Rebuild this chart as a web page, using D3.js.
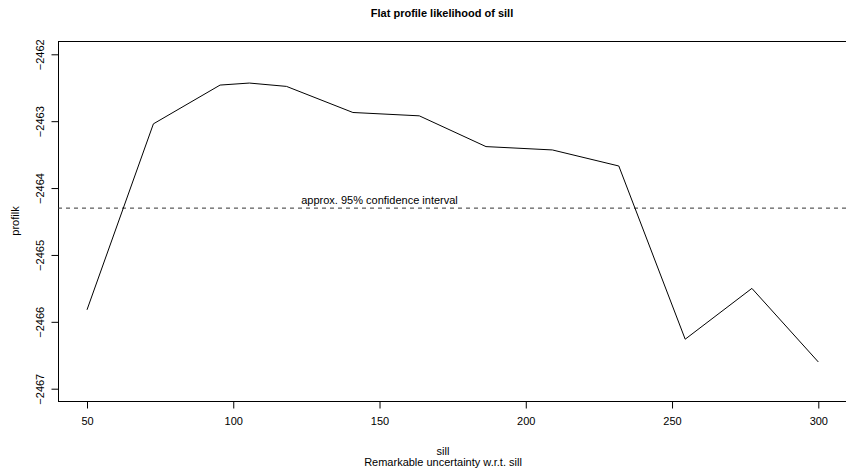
<!DOCTYPE html>
<html>
<head>
<meta charset="utf-8">
<script src="https://cdn.jsdelivr.net/npm/d3@7"></script>
<style>
  html, body { margin: 0; padding: 0; background: #fff; }
  svg { display: block; font-family: "Liberation Sans", Arial, Helvetica, sans-serif; }
</style>
</head>
<body>
<svg id="chart" width="846" height="468"></svg>
<script>
// Profile likelihood of the sill parameter
const sill = [50, 72.7, 95.5, 105.5, 118.2, 140.9, 163.6, 186.4, 209.1, 231.8, 254.5, 277.3, 300];
const profilk = [-2465.82, -2463.04, -2462.46, -2462.43, -2462.48, -2462.87, -2462.92,
                 -2463.38, -2463.43, -2463.67, -2466.26, -2465.50, -2466.60];
const ciLevel = -2464.30;           // approx. 95% confidence cut-off
const xTicks = [50, 100, 150, 200, 250, 300];
const yTicks = [-2467, -2466, -2465, -2464, -2463, -2462];
const titleText = "Flat profile likelihood of sill";
const xLabel = "sill";
const subText = "Remarkable uncertainty w.r.t. sill";
const yLabel = "profilk";
const ciText = "approx. 95% confidence interval";

const svg = d3.select("#chart");
const box = { left: 58, top: 41, right: 852, bottom: 401 };

const x = d3.scaleLinear().domain([50, 300]).range([87, 818.3]);
const y = d3.scaleLinear().domain([-2467, -2462]).range([388.7, 54.3]);

// plot frame
svg.append("rect")
  .attr("x", box.left + 0.5).attr("y", box.top + 0.5)
  .attr("width", box.right - box.left).attr("height", box.bottom - box.top)
  .attr("fill", "none").attr("stroke", "#000").attr("stroke-width", 1);

// x axis
const gx = svg.append("g")
  .attr("transform", `translate(0,${box.bottom + 0.5})`)
  .call(d3.axisBottom(x).tickValues(xTicks).tickSize(7).tickPadding(9).tickFormat(d3.format("d")));
gx.select(".domain").remove();
gx.selectAll("line").attr("stroke", "#000");
gx.selectAll("text").attr("font-size", 11).attr("fill", "#000")
  .attr("font-family", "Liberation Sans, Arial, sans-serif");

// y axis with rotated labels
const gy = svg.append("g")
  .attr("transform", `translate(${box.left + 0.5},0)`)
  .call(d3.axisLeft(y).tickValues(yTicks).tickSize(7).tickFormat(d => "\u2212" + Math.abs(d)));
gy.select(".domain").remove();
gy.selectAll("line").attr("stroke", "#000");
gy.selectAll("text")
  .attr("x", 0).attr("dy", 0)
  .attr("text-anchor", "middle")
  .attr("transform", "translate(-15,0) rotate(-90)")
  .attr("font-size", 11).attr("fill", "#000")
  .attr("font-family", "Liberation Sans, Arial, sans-serif");

// confidence cut-off line
svg.append("line")
  .attr("x1", box.left).attr("x2", 846)
  .attr("y1", y(ciLevel)).attr("y2", y(ciLevel))
  .attr("stroke", "#333").attr("stroke-width", 1)
  .attr("stroke-dasharray", "4,4");

svg.append("text")
  .attr("x", x(150)).attr("y", y(ciLevel) - 4)
  .attr("text-anchor", "middle").attr("font-size", 11).attr("fill", "#000")
  .text(ciText);

// profile curve
const line = d3.line().x((d, i) => x(sill[i])).y(d => y(d));
svg.append("path")
  .datum(profilk)
  .attr("d", line)
  .attr("fill", "none").attr("stroke", "#000").attr("stroke-width", 1);

// titles
svg.append("text")
  .attr("x", 442).attr("y", 17)
  .attr("text-anchor", "middle").attr("font-size", 11).attr("font-weight", "bold")
  .text(titleText);

svg.append("text")
  .attr("x", 443).attr("y", 455)
  .attr("text-anchor", "middle").attr("font-size", 11)
  .text(xLabel);

svg.append("text")
  .attr("x", 443).attr("y", 466)
  .attr("text-anchor", "middle").attr("font-size", 11)
  .text(subText);

svg.append("text")
  .attr("transform", `translate(19,221) rotate(-90)`)
  .attr("text-anchor", "middle").attr("font-size", 11)
  .text(yLabel);
</script>
</body>
</html>
